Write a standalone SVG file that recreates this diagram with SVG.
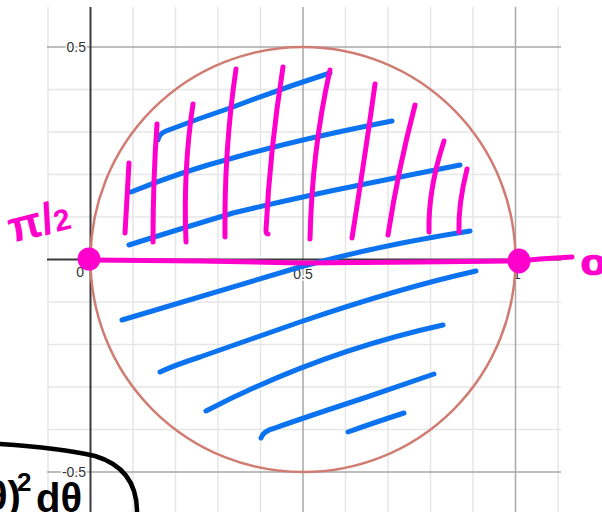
<svg xmlns="http://www.w3.org/2000/svg" width="602" height="512" viewBox="0 0 602 512">
<style>
.minor{stroke:#e6e6e6;stroke-width:1.5;fill:none}
.major{stroke:#a8a8a8;stroke-width:1.5;fill:none}
.axis{stroke:#3a3a3a;stroke-width:2;fill:none}
.lbl{font-family:"Liberation Sans",Arial,sans-serif;font-size:14px;fill:#333;stroke:#fff;stroke-width:3;paint-order:stroke}
.blue{stroke:#0b72f0;stroke-width:5;fill:none;stroke-linecap:round;stroke-linejoin:round}
.mag{stroke:#ff00cc;stroke-width:5;fill:none;stroke-linecap:round;stroke-linejoin:round}
.hand{font-family:"Liberation Sans",Arial,sans-serif;font-weight:bold}
</style>
<rect width="602" height="512" fill="#fff"/>
<g id="grid">
<path class="minor" d="M48,7V512M133,7V512M175.5,7V512M218,7V512M260.5,7V512M345.5,7V512M388,7V512M430.5,7V512M473,7V512M558,7V512"/>
<path class="minor" d="M47,89.5H561M47,132H561M47,174.5H561M47,217H561M47,302H561M47,344.5H561M47,387H561M47,429.5H561"/>
<path class="major" d="M303,7V512M515.5,7V512M47,47H561M47,472H561"/>
</g>
<g id="axes">
<path class="axis" d="M90.5,7V512M47,259.5H561"/>
</g>
<g id="labels">
<text class="lbl" x="86" y="52" text-anchor="end">0.5</text>
<text class="lbl" x="86" y="477" text-anchor="end">-0.5</text>
<text class="lbl" x="84" y="277" text-anchor="end">0</text>
<text class="lbl" x="303" y="279" text-anchor="middle">0.5</text>
<text class="lbl" x="517" y="279" text-anchor="middle">1</text>
</g>
<g id="circle">
<circle cx="303" cy="259.5" r="212.5" fill="none" stroke="#d07c72" stroke-width="2.5"/>
</g>
<g id="blue-hatching">
<path class="blue" d="M158,140 Q159,134 166,131 Q200,118 233,107 Q280,89 330,73"/>
<path class="blue" d="M131,192 Q183,171 233,158 Q300,139 392,121"/>
<path class="blue" d="M129,245 Q170,232 233,213 Q300,197 360,185 L460,165"/>
<path class="blue" d="M122,320 Q233,287 300,267 Q380,245 470,231"/>
<path class="blue" d="M160,372 Q175,365 200,357 L300,322 Q400,288 476,271"/>
<path class="blue" d="M206,411 Q320,352 443,325"/>
<path class="blue" d="M261,438 Q263,431 275,428 Q300,419 367,397 L434,374"/>
<path class="blue" d="M348,432 Q373,423 404,413"/>
</g>
<g id="magenta-hatching">
<path class="mag" d="M129,163 Q127,200 125,233"/>
<path class="mag" d="M157,124 Q153,180 153,242"/>
<path class="mag" d="M193,104 Q183,170 186,242"/>
<path class="mag" d="M236,69 Q224,150 225,237"/>
<path class="mag" d="M283,67 Q270,150 266,230 Q266,234 268,234"/>
<path class="mag" d="M330,70 Q312,150 310,239"/>
<path class="mag" d="M375,84 Q367,143 352,238"/>
<path class="mag" d="M415,105 Q398,170 388,235"/>
<path class="mag" d="M444,141 Q428,190 429,232"/>
<path class="mag" d="M467,169 Q458,205 459,232"/>
<path class="mag" d="M90,260 L200,261 L300,263 L420,262 L519,261 L540,259 L572,257"/>
<circle cx="89" cy="259" r="11.5" fill="#ff00cc"/>
<ellipse cx="519" cy="261" rx="11.5" ry="12.5" fill="#ff00cc"/>
<text class="hand" x="12" y="243" fill="#ff00cc" font-size="44" transform="rotate(-14 12 243)">π/<tspan font-size="30">2</tspan></text>
<text x="0" y="0" fill="none" stroke="#ff00cc" stroke-width="2.6" font-family="Liberation Sans, Arial, sans-serif" font-size="26" transform="translate(582 274) scale(1.6 1)">0</text>
</g>
<g id="formula">
<path d="M0,444 Q60,448 95,456 C125,465 137,485 137,512" fill="none" stroke="#000" stroke-width="4.5" stroke-linecap="round"/>
<text class="hand" x="-14" y="510" font-size="40" fill="#000">θ)<tspan x="17" y="491" font-size="26">2</tspan><tspan x="36" y="512" font-size="40">dθ</tspan></text>
</g>
</svg>
